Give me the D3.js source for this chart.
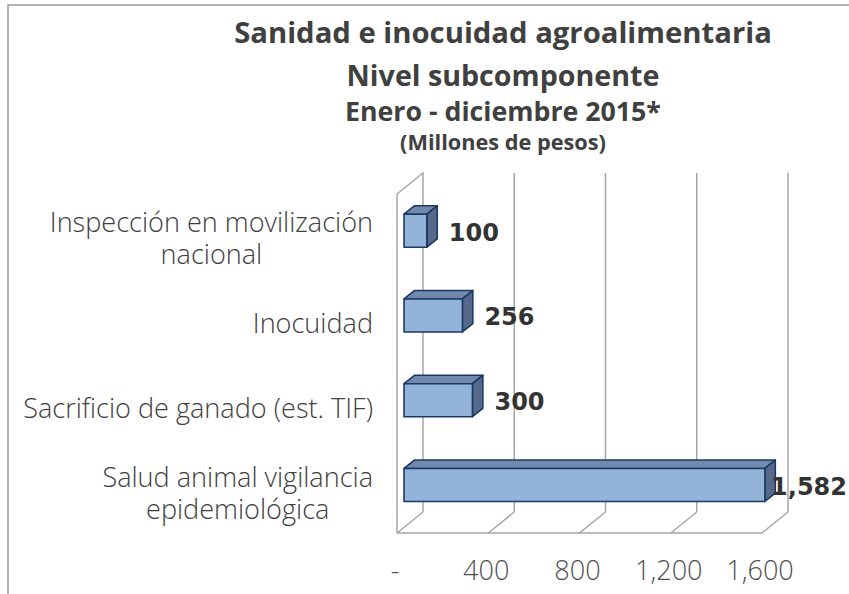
<!DOCTYPE html>
<html>
<head>
<meta charset="utf-8">
<script src="https://cdn.jsdelivr.net/npm/d3@7"></script>
<style>
  body { margin: 0; background: #fff; }
  svg { display: block; }
</style>
</head>
<body>
<svg id="chart" width="849" height="594"></svg>
<script>
// data
const categories = [
  "Inspección en movilización\nnacional",
  "Inocuidad",
  "Sacrificio de ganado (est. TIF)",
  "Salud animal vigilancia\nepidemiológica"
];
const values = [100, 256, 300, 1582];
const tickValues = [0, 400, 800, 1200, 1600];
const tickLabels = ["-", "400", "800", "1,200", "1,600"];
const titleLines = [
  "Sanidad e inocuidad agroalimentaria",
  "Nivel subcomponente",
  "Enero - diciembre 2015*",
  "(Millones de pesos)"
];

const svg = d3.select("#chart");
const W = 849;

// scale a text's font-size so it spans roughly the width seen in the reference
function fitSize(sel, base, target) {
  sel.style("font-size", base + "px");
  const w = sel.node().getComputedTextLength();
  const s = base * target / w;
  sel.style("font-size", s + "px");
  return s;
}

// outer frame (cut off on the right and bottom like the reference)
svg.append("rect")
  .attr("x", 8).attr("y", 5).attr("width", 900).attr("height", 700)
  .attr("fill", "none").attr("stroke", "#9a9a9a").attr("stroke-width", 1.5);

// titles
const titleW = [538, 313, 316, 206];
const titleY = [43, 86, 121, 150];
svg.selectAll("text.title").data(titleLines).join("text")
  .attr("class", "title")
  .attr("x", 503)
  .attr("y", (d, i) => titleY[i])
  .attr("text-anchor", "middle")
  .style("font-family", "'Open Sans', Lato, sans-serif")
  .style("font-weight", "bold")
  .style("fill", "#404040")
  .text(d => d)
  .each(function (d, i) { fitSize(d3.select(this), 28, titleW[i]); });

// 3d plot geometry: front plane plus a depth vector
const pLeft = 397, pRight = 762, pTop = 194, pBottom = 533;
const DX = 26, DY = -21;

const x = d3.scaleLinear().domain([0, 1600]).range([pLeft, pRight]);
const y = d3.scaleBand().domain(categories).range([pTop, pBottom])
  .paddingInner(0.61).paddingOuter(0.305);

const wall = svg.append("g")
  .attr("fill", "none").attr("stroke", "#a6a6a6").attr("stroke-width", 1.5);

// left wall
wall.append("path")
  .attr("d", `M${pLeft},${pBottom}V${pTop}L${pLeft + DX},${pTop + DY}V${pBottom + DY}`);
// back gridlines + floor diagonals
tickValues.forEach(v => {
  if (v > 0) {
    wall.append("line")
      .attr("x1", x(v) + DX).attr("x2", x(v) + DX)
      .attr("y1", pTop + DY).attr("y2", pBottom + DY);
  }
  wall.append("line")
    .attr("x1", x(v)).attr("y1", pBottom)
    .attr("x2", x(v) + DX).attr("y2", pBottom + DY);
});
// front floor edge
wall.append("line")
  .attr("x1", pLeft).attr("x2", pRight).attr("y1", pBottom).attr("y2", pBottom);

// bars
const f0 = 0.27, depth = 0.40;
const ox = DX * f0, oy = DY * f0;
const bx = DX * depth, by = DY * depth;

const bars = svg.append("g")
  .attr("stroke", "#1b3a63").attr("stroke-width", 1.6).attr("stroke-linejoin", "round");

categories.forEach((c, i) => {
  const x0 = x(0) + ox, x1 = x(values[i]) + ox;
  const y0 = y(c) + oy, y1 = y(c) + y.bandwidth() + oy;
  // top face
  bars.append("path").attr("fill", "#7189ad")
    .attr("d", `M${x0},${y0}L${x0 + bx},${y0 + by}L${x1 + bx},${y0 + by}L${x1},${y0}Z`);
  // side face
  bars.append("path").attr("fill", "#56698b")
    .attr("d", `M${x1},${y0}L${x1 + bx},${y0 + by}L${x1 + bx},${y1 + by}L${x1},${y1}Z`);
  // front face
  bars.append("rect").attr("fill", "#94b3d8")
    .attr("x", x0).attr("y", y0).attr("width", x1 - x0).attr("height", y1 - y0);
});

// value labels
categories.forEach((c, i) => {
  const cy = y(c) + y.bandwidth() / 2 + oy;
  const t = svg.append("text")
    .attr("y", cy + 10)
    .style("font-family", "'DejaVu Sans', Verdana, sans-serif")
    .style("font-weight", "bold")
    .style("font-size", "24px")
    .style("fill", "#333")
    .text(d3.format(",")(values[i]));
  let tx = x(values[i]) + ox + 22;
  const w = t.node().getComputedTextLength();
  if (tx + w > W - 2) tx = W - 2 - w;
  t.attr("x", tx);
});

// shared size for the light axis texts, fitted on the widest label
const probe = svg.append("text")
  .style("font-family", "'Open Sans', Lato, sans-serif")
  .style("font-weight", 300)
  .text("Sacrificio de ganado (est. TIF)");
const labelSize = fitSize(probe, 24, 350);
probe.remove();

// category labels (wrapped lines centered on each other, block right-aligned)
const labelRight = 373, lineH = 32;
categories.forEach(c => {
  const lines = c.split("\n");
  const cy = y(c) + y.bandwidth() / 2;
  const g = svg.append("g");
  const ts = lines.map((l, k) => g.append("text")
    .attr("y", cy + 12 - (lines.length - 1) * lineH / 2 + k * lineH)
    .attr("text-anchor", "middle")
    .style("font-family", "'Open Sans', Lato, sans-serif")
    .style("font-weight", 300)
    .style("font-size", labelSize + "px")
    .style("fill", "#404040")
    .text(l));
  const maxW = d3.max(ts, t => t.node().getComputedTextLength());
  ts.forEach(t => t.attr("x", labelRight - maxW / 2));
});

// x tick labels
svg.selectAll("text.tick").data(tickValues).join("text")
  .attr("class", "tick")
  .attr("x", d => x(d) - 2)
  .attr("y", 580)
  .attr("text-anchor", "middle")
  .style("font-family", "'Open Sans', Lato, sans-serif")
  .style("font-weight", 300)
  .style("font-size", labelSize + "px")
  .style("fill", "#505050")
  .text((d, i) => tickLabels[i]);
</script>
</body>
</html>
